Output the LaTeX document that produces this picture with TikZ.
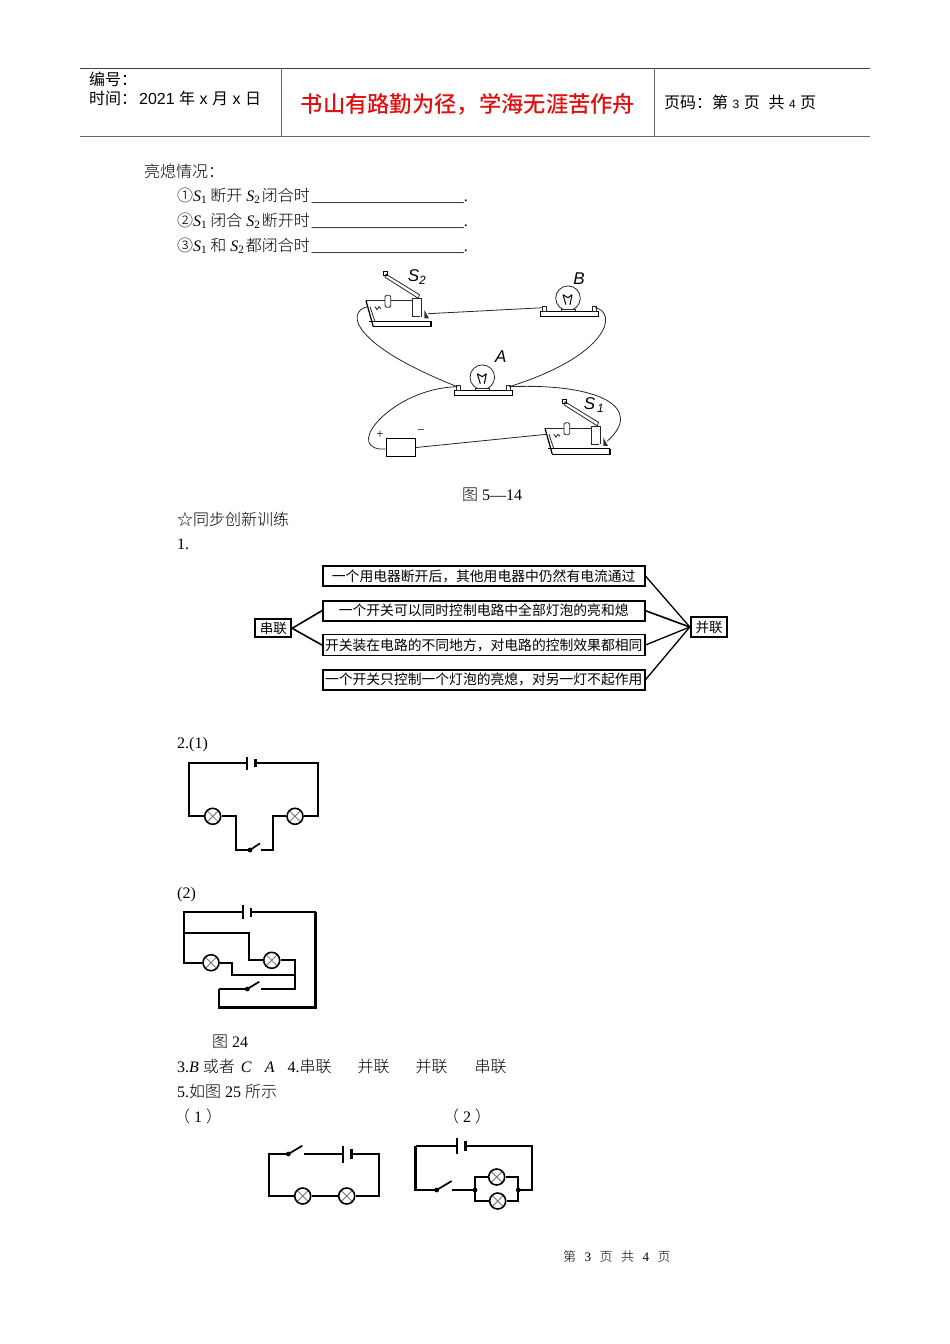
\documentclass[tikz,border=0pt]{standalone}
\usepackage{fontspec}
\setmainfont{Liberation Serif}
\setsansfont{Liberation Sans}
\newfontfamily\cjk{Noto Sans CJK SC}
\newfontfamily\cjkthin{Noto Sans CJK SC Light}
\newfontfamily\cjkmid{Noto Sans CJK SC Medium}
\newcommand{\zh}[1]{{\cjkthin #1}}
\newcommand{\zhh}[1]{{\cjk #1}}
\newcommand{\blankfill}{\_\_\_\_\_\_\_\_\_\_\_\_\_\_\_\_\_\_\_}
\newcommand{\subone}{\textit{S}\textsubscript{1}\kern3pt}
\newcommand{\subtwo}{\textit{S}\textsubscript{2}\kern1.5pt}
\definecolor{headred}{RGB}{224,16,16}
\tikzset{
  bodytext/.style={anchor=base west,inner sep=0pt,font=\fontsize{16}{16}\selectfont},
  headtext/.style={anchor=base west,inner sep=0pt,font=\sffamily\fontsize{16}{16}\selectfont},
  handtext/.style={inner sep=0pt,font=\sffamily\itshape\fontsize{17}{17}\selectfont},
  wire/.style={line width=1.7pt},
  heavywire/.style={line width=2.6pt},
  thinwire/.style={line width=0.8pt,black!85},
  rulegray/.style={line width=0.9pt,black!60},
  statebox/.style={draw,line width=1.6pt,minimum width=322pt,minimum height=20pt,inner sep=0pt,font=\cjk\fontsize{13.8}{14}\selectfont},
  linkbox/.style={draw,line width=1.7pt,minimum width=36pt,minimum height=18pt,inner sep=0pt,font=\cjk\fontsize{13.5}{14}\selectfont},
  lamp/.style={circle,draw,line width=1.6pt,minimum size=16pt,inner sep=0pt,
    path picture={\draw[line width=0.8pt,black!55] (path picture bounding box.north west) -- (path picture bounding box.south east)
      (path picture bounding box.north east) -- (path picture bounding box.south west);}},
  knife/.pic={
    \draw[thinwire] (0,0) -- (46,0);
    \draw[line width=1.2pt] (0,0) -- (7.3,26);
    \draw[thinwire] (4,6) -- (9,21);
    \draw[line width=0.8pt] (3,20.3) -- (65,20.3);
    \draw[line width=1.2pt] (7.3,26) -- (65,26) -- (65,20.3);
    \draw[thinwire,fill=white,rounded corners=1.5pt] (19,-5.5) rectangle (24.8,6.5);
    \draw[thinwire,fill=white] (46.3,16) -- (46.3,-2.4) -- (55.7,-2.4) -- (55.7,16) (46.3,16) -- (54,16);
    \draw[thinwire,fill=white] (20,-26.5) -- (19,-23.5) -- (52.3,-2.4) -- (53.5,-6) -- cycle;
    \draw[line width=1pt] (17.3,-29) rectangle (21.3,-25);
    \fill[black!80] (58.3,9.3) -- (63,17.6) -- (58.3,17.6) -- cycle;
    \draw[thinwire] (9,6) -- (11,9) -- (13,6) -- (15,8);
    \coordinate (-l) at (1.5,6);
    \coordinate (-r) at (62,13);
  },
  bulb/.pic={
    \draw[thinwire] (-1,-13.5) circle (12.3);
    \draw[line width=1pt] (-6,-17) -- (-3,-7) (3,-17) -- (1,-7) (-6,-17) -- (-1,-14) -- (3,-17);
    \draw[thinwire,fill=white] (-8,-2) rectangle (6,0);
    \draw[line width=1pt,fill=white] (-29,0) rectangle (29,4.3);
    \draw[thinwire,fill=white] (-27,-5) rectangle (-23,0);
    \draw[thinwire,fill=white] (23,-5) rectangle (27,0);
    \coordinate (-l) at (-26,-4);
    \coordinate (-r) at (26,-4);
  }
}
\begin{document}
\begin{tikzpicture}[x=1pt,y=-1pt]
  \useasboundingbox (0,0) rectangle (950,1344);
  % header
  \draw[line width=0.9pt,black!75] (80,68) -- (870,68);
  \draw[rulegray] (80,136) -- (870,136);
  \draw[rulegray] (281,68) -- (281,136);
  \draw[rulegray] (654,68) -- (654,136);
  \node[headtext] (codeline) at (89,85) {\zhh{编号：}};
  \node[headtext] (dateline) at (89,104) {\zhh{时间：}\kern2pt 2021 \zhh{年} x \zhh{月} x \zhh{日}};
  \node[anchor=center,inner sep=0pt,text=headred,font=\cjkmid\fontsize{22.3}{23}\selectfont] (motto) at (468,104.5) {书山有路勤为径，学海无涯苦作舟};
  \node[headtext] (pageline) at (664,108.5) {\zhh{页码：第} {\fontsize{12}{12}\selectfont 3} \zhh{页}\ \ \zhh{共} {\fontsize{12}{12}\selectfont 4} \zhh{页}};
  % text lines
  \node[bodytext] (state) at (144,177) {\zh{亮熄情况：}};
  \node[bodytext] (case1) at (177,201) {\zh{①}\subone\zh{断开} \subtwo\zh{闭合时}\kern2pt\blankfill.};
  \node[bodytext] (case2) at (177,226) {\zh{②}\subone\zh{闭合} \subtwo\zh{断开时}\kern2pt\blankfill.};
  \node[bodytext] (case3) at (177,251) {\zh{③}\subone\zh{和} \subtwo\zh{都闭合时}\kern2pt\blankfill.};
  \node[bodytext] (figa) at (462,500) {\zh{图} 5—14};
  \node[bodytext] (train) at (177,525) {\zh{☆同步创新训练}};
  \node[bodytext] (one) at (177,549) {1.};
  \node[bodytext] (two) at (177,748) {2.(1)};
  \node[bodytext] (twob) at (177,898) {(2)};
  \node[bodytext] (figb) at (212,1047) {\zh{图} 24};
  \node[bodytext] (three) at (177,1072) {3.\textit{B} \zh{或者}\kern2pt\ \textit{C}\kern13pt\textit{A}\kern13pt 4.\zh{串联}\kern26pt\zh{并联}\kern26pt\zh{并联}\kern27pt\zh{串联}};
  \node[bodytext] (five) at (177,1097) {5.\zh{如图} 25 \zh{所示}};
  \node[bodytext] (fivea) at (174,1122) {\zh{（}\kern4pt 1\kern4pt\zh{）}};
  \node[bodytext] (fiveb) at (443,1122) {\zh{（}\kern4pt 2\kern4pt\zh{）}};
  \node[anchor=base west,inner sep=0pt,font=\fontsize{13}{13}\selectfont] (footer) at (563,1261) {\zh{第}\kern8.5pt 3\kern8.5pt\zh{页}\kern8.5pt\zh{共}\kern8.5pt 4\kern8.5pt\zh{页}};
  % fig 5-14
  \pic (swb) at (366,300.7) {knife};
  \pic (swa) at (545,428.3) {knife};
  \pic (bulbb) at (569,311.7) {bulb};
  \pic (bulba) at (483.3,390.7) {bulb};
  \node[draw,line width=0.9pt,minimum width=29.7pt,minimum height=18.4pt,inner sep=0pt] (cell) at (400.8,447.5) {};
  \coordinate (cellend) at (380,449);
  \node[handtext] (nameb) at (579,279) {\textit{B}};
  \node[handtext] (namea) at (500.7,357) {\textit{A}};
  \node[handtext] (nameswb) at (417,277) {\textit{S}\textsubscript{2}};
  \node[handtext] (nameswa) at (594,405) {\textit{S}\textsubscript{\,1}};
  \node[inner sep=0pt,font=\fontsize{13}{13}\selectfont] (plus) at (380,435) {+};
  \node[inner sep=0pt,font=\fontsize{13}{13}\selectfont] (minus) at (421,432.5) {−};
  \draw[thinwire] (swb-r) -- (bulbb-l);
  \draw[thinwire] (cell.east) -- (swa-l);
  \draw[thinwire] (swb-l) .. controls (345,312) and (352,345) .. (bulba-l);
  \draw[thinwire] (bulbb-r) .. controls (618,312) and (610,355) .. (bulba-r);
  \draw[thinwire] (bulba-l) .. controls (395,388) and (345,445) .. (cellend) -- (cell.west |- cellend);
  \draw[thinwire] (bulba-r) .. controls (600,383) and (645,408) .. (swa-r);
  % answer 1
  \node[statebox] (boxa) at (483.7,576) {一个用电器断开后，其他用电器中仍然有电流通过\hspace{9pt}};
  \node[statebox] (boxb) at (483.7,610.7) {一个开关可以同时控制电路中全部灯泡的亮和熄\hspace{10pt}};
  \node[statebox,minimum height=21pt] (boxc) at (483.7,645) {开关装在电路的不同地方，对电路的控制效果都相同};
  \node[statebox] (boxd) at (483.7,679.7) {一个开关只控制一个灯泡的亮熄，对另一灯不起作用};
  \node[linkbox] (series) at (273.3,628.3) {串联};
  \node[linkbox,line width=2.4pt,minimum height=20pt] (parallel) at (709,627) {并联};
  \draw[line width=1.6pt] (series.east) -- (boxb.west);
  \draw[line width=1.6pt] (series.east) -- (boxc.west);
  \draw[line width=1.3pt] (boxa.east) -- (parallel.west);
  \draw[line width=1.6pt] (boxb.east) -- (parallel.west);
  \draw[line width=1.3pt] (boxc.east) -- (parallel.west);
  \draw[line width=1.3pt] (boxd.east) -- (parallel.west);
  % answer 2(1)
  \node[lamp] (la) at (212.7,816.3) {};
  \node[lamp] (lb) at (295,816.3) {};
  \coordinate (a1) at (247.3,763.3);
  \coordinate (a2) at (255.3,763.3);
  \coordinate (a3) at (189.3,763.3);
  \coordinate (a4) at (189.3,816.3);
  \coordinate (a5) at (318.3,763.3);
  \coordinate (a6) at (318.3,816.3);
  \coordinate (a7) at (235.7,816.3);
  \coordinate (a8) at (235.7,850);
  \coordinate (a9) at (250,850);
  \coordinate (a10) at (260.7,850);
  \coordinate (a11) at (272.7,850);
  \coordinate (a12) at (272.7,816.3);
  \coordinate (a13) at (260,843.3);
  \draw[wire] (a1) -- (a3) -- (a4) -- (la);
  \draw[wire] (a2) -- (a5) -- (a6) -- (lb);
  \draw[wire] (la) -- (a7) -- (a8) -- (a9);
  \draw[wire] (a10) -- (a11) -- (a12) -- (lb);
  \draw[wire] (a9) -- (a13);
  \fill (a9) circle (2.4);
  \draw[line width=1.8pt] ([yshift=-6.5pt]a1) -- ([yshift=6.5pt]a1);
  \draw[line width=2.8pt] ([yshift=-4pt]a2) -- ([yshift=4pt]a2);
  % answer 2(2)
  \node[lamp] (lc) at (211,962.7) {};
  \node[lamp] (ld) at (271.7,960.3) {};
  \coordinate (b1) at (242.7,912.3);
  \coordinate (b2) at (251,912.3);
  \coordinate (b3) at (184,912.3);
  \coordinate (b4) at (184,962.7);
  \coordinate (b5) at (184,932.7);
  \coordinate (b6) at (249,932.7);
  \coordinate (b7) at (249,960.3);
  \coordinate (b8) at (295,960.3);
  \coordinate (b9) at (295,989);
  \coordinate (b10) at (232.3,962.7);
  \coordinate (b11) at (232.3,975);
  \coordinate (b12) at (295,975);
  \coordinate (b13) at (260.7,989);
  \coordinate (b14) at (247.3,989);
  \coordinate (b15) at (259.3,981.7);
  \coordinate (b16) at (219,989);
  \coordinate (b17) at (219,1007.3);
  \coordinate (b18) at (315.7,1007.3);
  \coordinate (b19) at (315.7,912.3);
  \draw[wire] (b1) -- (b3) -- (b4) -- (lc);
  \draw[wire] (b5) -- (b6) -- (b7) -- (ld);
  \draw[wire] (ld) -- (b8) -- (b9) -- (b13);
  \draw[wire] (lc) -- (b10) -- (b11) -- (b12);
  \draw[wire] (b14) -- (b15);
  \draw[wire] (b14) -- (b16);
  \draw[heavywire] (b16) -- (b17) -- (b18) -- (b19);
  \draw[wire] (b19) -- (b2);
  \fill (b14) circle (2.4);
  \draw[line width=1.8pt] ([yshift=-7pt]b1) -- ([yshift=7pt]b1);
  \draw[line width=2.8pt] ([yshift=-4.5pt]b2) -- ([yshift=4.5pt]b2);
  % answer 5(1)
  \node[lamp] (le) at (302.7,1196) {};
  \node[lamp] (lf) at (346.7,1196) {};
  \coordinate (c1) at (288.3,1154);
  \coordinate (c2) at (302.3,1145.7);
  \coordinate (c3) at (304.3,1154);
  \coordinate (c4) at (343.3,1154);
  \coordinate (c5) at (351.7,1154);
  \coordinate (c6) at (269,1154);
  \coordinate (c7) at (269,1196);
  \coordinate (c8) at (379,1154);
  \coordinate (c9) at (379,1196);
  \draw[wire] (c1) -- (c6) -- (c7) -- (le);
  \draw[wire] (c1) -- (c2);
  \fill (c1) circle (2.4);
  \draw[wire] (c3) -- (c4);
  \draw[wire] (le) -- (lf);
  \draw[wire] (lf) -- (c9) -- (c8) -- (c5);
  \draw[line width=1.8pt] ([yshift=-8.5pt]c4) -- ([yshift=8.5pt]c4);
  \draw[line width=2.8pt] ([yshift=-5pt]c5) -- ([yshift=5pt]c5);
  % answer 5(2)
  \node[lamp] (lg) at (496.7,1177) {};
  \node[lamp] (lh) at (497.7,1201) {};
  \coordinate (d1) at (456.7,1145.7);
  \coordinate (d2) at (465.7,1145.7);
  \coordinate (d3) at (415.7,1145.7);
  \coordinate (d4) at (415.7,1190);
  \coordinate (d5) at (436.7,1190);
  \coordinate (d6) at (451.7,1181);
  \coordinate (d7) at (452.3,1190);
  \coordinate (d8) at (475,1190);
  \coordinate (d9) at (475,1177);
  \coordinate (d10) at (475,1201);
  \coordinate (d11) at (518.3,1190);
  \coordinate (d12) at (518.3,1177);
  \coordinate (d13) at (518.3,1201);
  \coordinate (d14) at (531.7,1190);
  \coordinate (d15) at (531.7,1145.7);
  \draw[wire] (d1) -- (d3);
  \draw[heavywire] (d3) -- (d4) -- (d5);
  \draw[wire] (d5) -- (d6);
  \fill (d5) circle (2.4);
  \draw[wire] (d7) -- (d8);
  \draw[wire] (lg) -- (d9) -- (d10) -- (lh);
  \draw[wire] (lg) -- (d12) -- (d13) -- (lh);
  \draw[wire] (d11) -- (d14) -- (d15) -- (d2);
  \fill (d8) circle (2.4) (d11) circle (2.4);
  \draw[line width=1.8pt] ([yshift=-8pt]d1) -- ([yshift=8pt]d1);
  \draw[line width=2.8pt] ([yshift=-5pt]d2) -- ([yshift=5pt]d2);
\end{tikzpicture}
\end{document}
